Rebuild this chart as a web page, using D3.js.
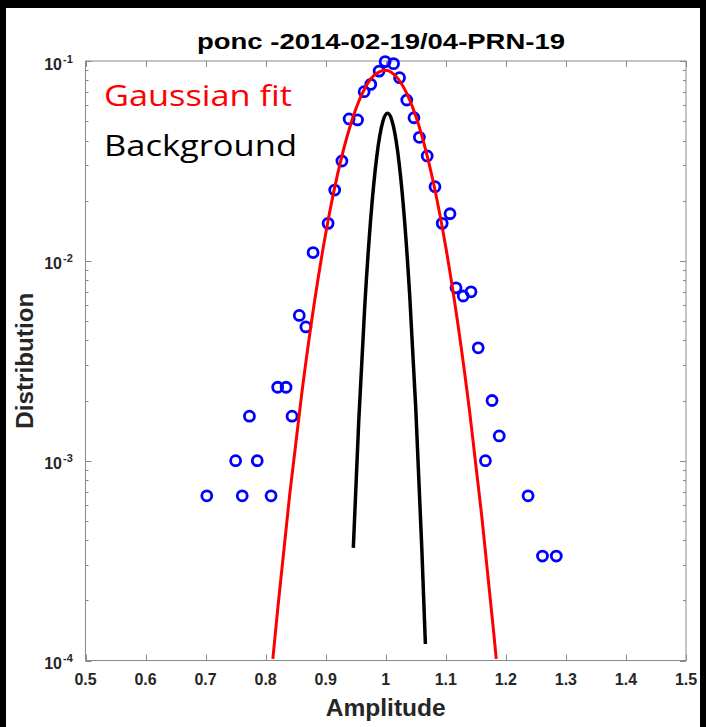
<!DOCTYPE html>
<html>
<head>
<meta charset="utf-8">
<script src="https://cdn.jsdelivr.net/npm/d3@7"></script>
<style>
  body { margin: 0; background: #000; }
  svg { display: block; }
</style>
</head>
<body>
<div id="chart"></div>
<script>
// measured histogram points (amplitude, distribution)
const pointX = [0.702, 0.761, 0.809, 0.750, 0.786, 0.773, 0.844, 0.820, 0.834, 0.856, 0.867, 0.879,
    0.904, 0.915, 0.927, 0.939, 0.953, 0.964, 0.975, 0.989, 0.999, 1.013, 1.023, 1.035, 1.047, 1.056,
    1.069, 1.082, 1.094, 1.107, 1.117, 1.129, 1.142, 1.154, 1.177, 1.189, 1.166, 1.237, 1.261, 1.284]
const pointY = [6.67e-4, 6.67e-4, 6.67e-4, 1.0e-3, 1.0e-3, 1.67e-3, 1.67e-3, 2.33e-3, 2.33e-3, 5.33e-3, 4.67e-3, 1.1e-2,
    1.54e-2, 2.26e-2, 3.16e-2, 5.13e-2, 5.07e-2, 7.02e-2, 7.64e-2, 8.9e-2, 9.93e-2, 9.7e-2, 8.25e-2, 6.38e-2, 5.2e-2, 4.15e-2,
    3.35e-2, 2.35e-2, 1.54e-2, 1.72e-2, 7.33e-3, 6.67e-3, 7.0e-3, 3.67e-3, 2.0e-3, 1.33e-3, 1.0e-3, 6.67e-4, 3.33e-4, 3.33e-4]

// gaussian fit curve
const fitX = [0.812, 0.82, 0.84, 0.86, 0.88, 0.90, 0.92, 0.94, 0.96, 0.98, 1.00, 1.02, 1.04, 1.06, 1.08, 1.10, 1.12, 1.14, 1.16, 1.18, 1.184]
const fitY = [1.02e-4, 1.8e-4, 6.74e-4, 2.15e-3, 5.87e-3, 1.37e-2, 2.73e-2, 4.65e-2, 6.78e-2, 8.44e-2, 9.0e-2, 8.18e-2,
    6.37e-2, 4.24e-2, 2.41e-2, 1.17e-2, 4.86e-3, 1.73e-3, 5.24e-4, 1.36e-4, 1.02e-4]

// background curve
const bgX = [0.946, 0.955, 0.965, 0.975, 0.985, 0.995, 1.003, 1.010, 1.020, 1.030, 1.040, 1.050, 1.060, 1.066]
const bgY = [3.66e-4, 1.57e-3, 5.9e-3, 1.63e-2, 3.32e-2, 4.96e-2, 5.47e-2, 5.07e-2, 3.5e-2, 1.78e-2, 6.63e-3, 1.82e-3, 3.66e-4, 1.21e-4]

const xTicks = [0.5, 0.6, 0.7, 0.8, 0.9, 1, 1.1, 1.2, 1.3, 1.4, 1.5]
const yTicks = [1e-4, 1e-3, 1e-2, 1e-1]
const yExponents = ["-4", "-3", "-2", "-1"]

const titleText = "ponc -2014-02-19/04-PRN-19"
const xLabel = "Amplitude"
const yLabel = "Distribution"
const legendLabels = ["Gaussian fit", "Background"]

const width = 706
const height = 727
const plot = { left: 85.5, right: 686, top: 61, bottom: 660.5 }
const axisGray = "#8a8a8a"
const labelColor = "#262626"
const font = "Liberation Sans, Arial, sans-serif"

const svg = d3.select("#chart").append("svg")
    .attr("width", width)
    .attr("height", height)

// black frame with white panel
svg.append("rect").attr("width", width).attr("height", height).attr("fill", "#000")
svg.append("rect")
    .attr("x", 6).attr("y", 8)
    .attr("width", 694).attr("height", height - 8)
    .attr("fill", "#fff")

//1. scales
const xScale = d3.scaleLinear().domain([0.5, 1.5]).range([plot.left, plot.right])
const yScale = d3.scaleLog().domain([1e-4, 1e-1]).range([plot.bottom, plot.top])

//2. axes, ticks inward on all four sides
const minorTicks = []
for (let e = -4; e < -1; e++) {
    for (let m = 2; m <= 9; m++) minorTicks.push(m * Math.pow(10, e))
}

const axes = svg.append("g").attr("stroke", axisGray).attr("stroke-width", 1)

xTicks.forEach(t => {
    const x = Math.round(xScale(t)) + 0.5
    axes.append("line").attr("x1", x).attr("x2", x).attr("y1", plot.bottom).attr("y2", plot.bottom - 6)
    axes.append("line").attr("x1", x).attr("x2", x).attr("y1", plot.top).attr("y2", plot.top + 6)
})
yTicks.forEach(t => {
    const y = Math.round(yScale(t)) + 0.5
    axes.append("line").attr("x1", plot.left).attr("x2", plot.left + 6).attr("y1", y).attr("y2", y)
    axes.append("line").attr("x1", plot.right).attr("x2", plot.right - 6).attr("y1", y).attr("y2", y)
})
minorTicks.forEach(t => {
    const y = Math.round(yScale(t)) + 0.5
    axes.append("line").attr("x1", plot.left).attr("x2", plot.left + 3).attr("y1", y).attr("y2", y)
    axes.append("line").attr("x1", plot.right).attr("x2", plot.right - 3).attr("y1", y).attr("y2", y)
})
axes.append("rect")
    .attr("x", plot.left).attr("y", plot.top)
    .attr("width", plot.right - plot.left).attr("height", plot.bottom - plot.top)
    .attr("fill", "none")

// tick labels
svg.append("g")
    .selectAll("text")
    .data(xTicks)
    .join("text")
    .attr("x", d => xScale(d))
    .attr("y", plot.bottom + 24)
    .attr("text-anchor", "middle")
    .attr("font-family", font)
    .attr("font-weight", "bold")
    .attr("font-size", 16)
    .attr("fill", labelColor)
    .text(d => d)

const yLab = svg.append("g")
    .attr("font-family", font)
    .attr("font-weight", "bold")
    .attr("fill", labelColor)
yTicks.forEach((t, i) => {
    const y = yScale(t)
    yLab.append("text")
        .attr("x", 62).attr("y", y + 8.5)
        .attr("text-anchor", "end")
        .attr("font-size", 16)
        .text("10")
    yLab.append("text")
        .attr("x", 63).attr("y", y + 1.5)
        .attr("font-size", 11)
        .text(yExponents[i])
})

//3. titles
svg.append("text")
    .attr("x", 381).attr("y", 49)
    .attr("text-anchor", "middle")
    .attr("font-family", font)
    .attr("font-weight", "bold")
    .attr("font-size", 22)
    .attr("fill", "#000")
    .attr("textLength", 368)
    .attr("lengthAdjust", "spacingAndGlyphs")
    .text(titleText)

svg.append("text")
    .attr("x", xScale(1)).attr("y", 716)
    .attr("text-anchor", "middle")
    .attr("font-family", font)
    .attr("font-weight", "bold")
    .attr("font-size", 23)
    .attr("fill", labelColor)
    .attr("textLength", 120)
    .attr("lengthAdjust", "spacingAndGlyphs")
    .text(xLabel)

svg.append("text")
    .attr("transform", `translate(33, ${(plot.top + plot.bottom) / 2}) rotate(-90)`)
    .attr("text-anchor", "middle")
    .attr("font-family", font)
    .attr("font-weight", "bold")
    .attr("font-size", 23)
    .attr("fill", labelColor)
    .attr("textLength", 136)
    .attr("lengthAdjust", "spacingAndGlyphs")
    .text(yLabel)

//4. data
svg.append("clipPath").attr("id", "plot-clip")
    .append("rect")
    .attr("x", plot.left).attr("y", plot.top)
    .attr("width", plot.right - plot.left).attr("height", plot.bottom - plot.top)

const line = d3.line()
    .curve(d3.curveMonotoneX)
    .x(d => xScale(d[0]))
    .y(d => yScale(d[1]))

svg.append("path")
    .datum(d3.zip(bgX, bgY))
    .attr("fill", "none")
    .attr("stroke", "#000")
    .attr("stroke-width", 3.5)
    .attr("d", line)

svg.append("g")
    .selectAll("circle")
    .data(d3.zip(pointX, pointY))
    .join("circle")
    .attr("cx", d => xScale(d[0]))
    .attr("cy", d => yScale(d[1]))
    .attr("r", 5)
    .attr("fill", "none")
    .attr("stroke", "#0000ff")
    .attr("stroke-width", 2.8)

svg.append("path")
    .datum(d3.zip(fitX, fitY))
    .attr("clip-path", "url(#plot-clip)")
    .attr("fill", "none")
    .attr("stroke", "#ff0000")
    .attr("stroke-width", 3)
    .attr("d", line)

//5. legend text
const legendColors = ["#ff0000", "#000"]
svg.append("g")
    .selectAll("text")
    .data(legendLabels)
    .join("text")
    .attr("x", 104)
    .attr("y", (d, i) => 106 + i * 50)
    .attr("font-family", "Open Sans, sans-serif")
    .attr("font-size", 30)
    .attr("fill", (d, i) => legendColors[i])
    .attr("textLength", (d, i) => [188, 193][i])
    .attr("lengthAdjust", "spacingAndGlyphs")
    .text(d => d)
</script>
</body>
</html>
